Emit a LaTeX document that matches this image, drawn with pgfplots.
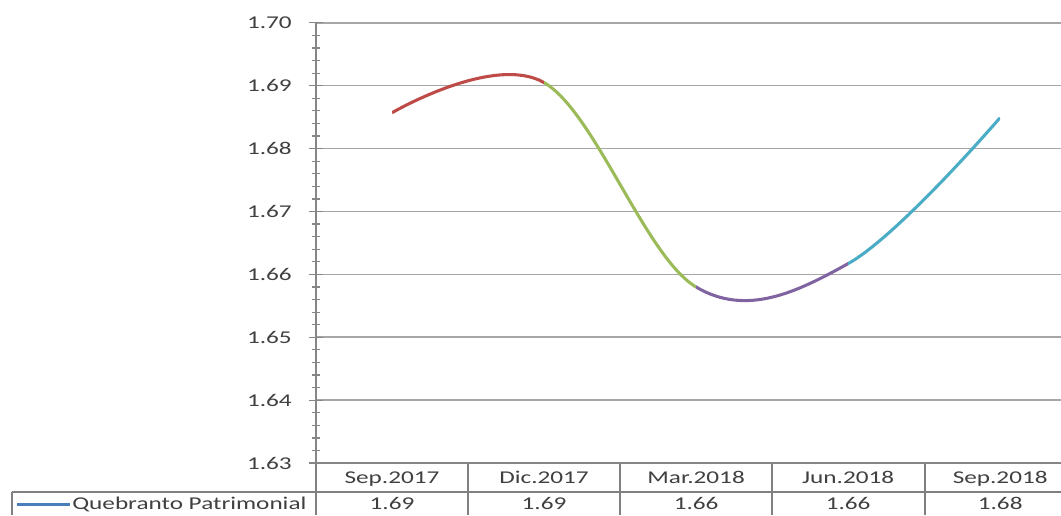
\documentclass[border=0pt]{standalone}
\usepackage{fontspec}
\setmainfont{Carlito}[FakeStretch=1.4]
\usepackage{pgfplots}
\usepackage{pgfplotstable}
\pgfplotsset{compat=1.18}
\definecolor{cred}{HTML}{BE4B48}
\definecolor{cgreen}{HTML}{9BBB59}
\definecolor{cpurple}{HTML}{8064A2}
\definecolor{ccyan}{HTML}{4BACC6}
\definecolor{cblue}{HTML}{4A7EBB}
\definecolor{txt}{HTML}{404040}
\definecolor{gridc}{HTML}{A6A6A6}
\definecolor{axc}{HTML}{868686}
\definecolor{tabc}{HTML}{808080}
\pgfplotstableread{
x y
0 1.6857
1 1.6905
2 1.6580
3 1.6617
4 1.6849
}\data
\pgfplotsset{seg/.style={at={(#1,0)}, anchor=south west, scale only axis, width=114pt, height=330.2pt,
  ymin=1.63, ymax=1.70, hide axis}}
\begin{document}
\begin{tikzpicture}
\useasboundingbox (-237pt,-39pt) rectangle (558.75pt,347.3pt);
\begin{axis}[
  at={(0,0)}, anchor=south west,
  scale only axis, width=558.75pt, height=330.2pt,
  xmin=-0.5, xmax=4.4, ymin=1.63, ymax=1.70,
  axis x line*=bottom, axis y line*=left,
  axis line style={draw=axc, line width=1pt, -},
  xtick={0,1,2,3,4},
  xticklabels={Sep.2017,Dic.2017,Mar.2018,Jun.2018,Sep.2018},
  xtick style={draw=none},
  xticklabel style={anchor=base, inner sep=0pt, yshift=-9.9pt, font=\fontsize{13.5}{16}\selectfont, text=txt},
  ytick={1.63,1.64,...,1.70},
  minor y tick num=4,
  tick align=center,
  major tick length=10.5pt,
  minor tick length=6pt,
  ytick style={draw=axc, line width=0.9pt},
  yticklabel style={anchor=east, inner sep=0pt, xshift=-12.75pt, font=\fontsize{13.5}{16}\selectfont, text=txt,
    /pgf/number format/.cd, fixed, fixed zerofill, precision=2, assume math mode=true},
  ymajorgrids,
  major grid style={draw=gridc, line width=1.2pt},
  clip mode=individual,
]
\node[anchor=base, inner sep=0pt, text=txt, font=\fontsize{13.5}{16}\selectfont] at (axis cs:0,1.63) [yshift=-34.5pt] {1.69};
\node[anchor=base, inner sep=0pt, text=txt, font=\fontsize{13.5}{16}\selectfont] at (axis cs:1,1.63) [yshift=-34.5pt] {1.69};
\node[anchor=base, inner sep=0pt, text=txt, font=\fontsize{13.5}{16}\selectfont] at (axis cs:2,1.63) [yshift=-34.5pt] {1.66};
\node[anchor=base, inner sep=0pt, text=txt, font=\fontsize{13.5}{16}\selectfont] at (axis cs:3,1.63) [yshift=-34.5pt] {1.66};
\node[anchor=base, inner sep=0pt, text=txt, font=\fontsize{13.5}{16}\selectfont] at (axis cs:4,1.63) [yshift=-34.5pt] {1.68};
\end{axis}
\begin{axis}[seg=57pt, xmin=0, xmax=1]
\addplot[cred, line width=2.3pt, smooth, tension=0.6] table {\data};
\end{axis}
\begin{axis}[seg=171pt, xmin=1, xmax=2]
\addplot[cgreen, line width=2.3pt, smooth, tension=0.6] table {\data};
\end{axis}
\begin{axis}[seg=285pt, xmin=2, xmax=3]
\addplot[cpurple, line width=2.3pt, smooth, tension=0.6] table {\data};
\end{axis}
\begin{axis}[seg=399pt, xmin=3, xmax=4]
\addplot[ccyan, line width=2.3pt, smooth, tension=0.6] table {\data};
\end{axis}
% data table grid
\draw[tabc, line width=1pt] (-228pt,-21.75pt) -- (558.75pt,-21.75pt);
\draw[tabc, line width=1pt] (0,0) -- (0,-39pt);
\draw[tabc, line width=1pt] (-228pt,-21.75pt) -- (-228pt,-39pt);
\foreach \xx in {114,228,342,456.75} {\draw[tabc, line width=1pt] (\xx pt,0) -- (\xx pt,-39pt);}
% legend key
\draw[cblue, line width=2.3pt] (-224.25pt,-30.75pt) -- (-184.5pt,-30.75pt);
\node[anchor=base west, inner sep=0pt, text=txt, font=\fontsize{13.5}{16}\selectfont] at (-183pt,-34.5pt) {Quebranto Patrimonial};
\end{tikzpicture}
\end{document}
